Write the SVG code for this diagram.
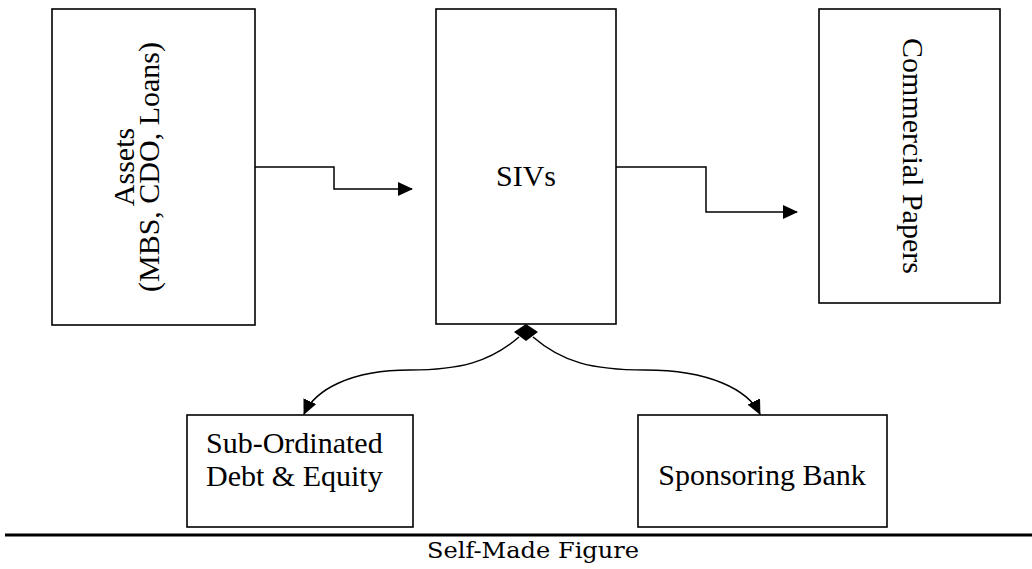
<svg xmlns="http://www.w3.org/2000/svg" width="1032" height="569" viewBox="0 0 1032 569">
  <defs>
    <style>
      .box { fill: #fff; stroke: #000; stroke-width: 1.6; }
      .lbl { font-family: "Liberation Serif", "Times New Roman", serif; font-size: 30px; fill: #000; }
      .conn { fill: none; stroke: #000; stroke-width: 1.5; }
      .cap { font-family: "DejaVu Serif", serif; font-size: 22px; fill: #000; }
    </style>
    <marker id="arrow" markerUnits="userSpaceOnUse" markerWidth="15" markerHeight="14" refX="14" refY="7" orient="auto">
      <path d="M0,0 L15,7 L0,14 Z" fill="#000"/>
    </marker>
  </defs>
  <rect width="1032" height="569" fill="#fff"/>

  <g id="assets">
    <rect class="box" x="52" y="9" width="203" height="316"/>
    <text class="lbl" transform="translate(134,167) rotate(-90)" text-anchor="middle">Assets</text>
    <text class="lbl" transform="translate(159,167) rotate(-90)" text-anchor="middle">(MBS, CDO, Loans)</text>
  </g>

  <g id="sivs">
    <rect class="box" x="436" y="9" width="180" height="315"/>
    <text class="lbl" x="526" y="186" text-anchor="middle">SIVs</text>
  </g>

  <g id="commercial-papers">
    <rect class="box" x="819" y="9" width="181" height="294"/>
    <text class="lbl" transform="translate(903,156) rotate(90)" text-anchor="middle">Commercial Papers</text>
  </g>

  <g id="subordinated">
    <rect class="box" x="187" y="415" width="226" height="112"/>
    <text class="lbl" x="206" y="453">Sub-Ordinated</text>
    <text class="lbl" x="206" y="486">Debt &amp; Equity</text>
  </g>

  <g id="sponsoring-bank">
    <rect class="box" x="638" y="415" width="249" height="112"/>
    <text class="lbl" x="762" y="485" text-anchor="middle">Sponsoring Bank</text>
  </g>

  <g id="connectors">
    <path class="conn" d="M255,167 H334 V189 H412" marker-end="url(#arrow)"/>
    <path class="conn" d="M616,167 H706 V212 H797" marker-end="url(#arrow)"/>
    <path class="conn" d="M519,337 C490,362 460,370 410,370 C350,370 315,390 304,414" marker-end="url(#arrow)"/>
    <path class="conn" d="M533,337 C562,362 592,370 645,370 C710,370 748,390 760,414" marker-end="url(#arrow)"/>
    <polygon points="526,324 538,332 526,341 514,332" fill="#000"/>
  </g>

  <g id="caption">
    <line x1="5" y1="535" x2="1032" y2="535" stroke="#000" stroke-width="3"/>
    <text class="cap" x="533" y="558" text-anchor="middle" textLength="212" lengthAdjust="spacingAndGlyphs">Self-Made Figure</text>
  </g>
</svg>
